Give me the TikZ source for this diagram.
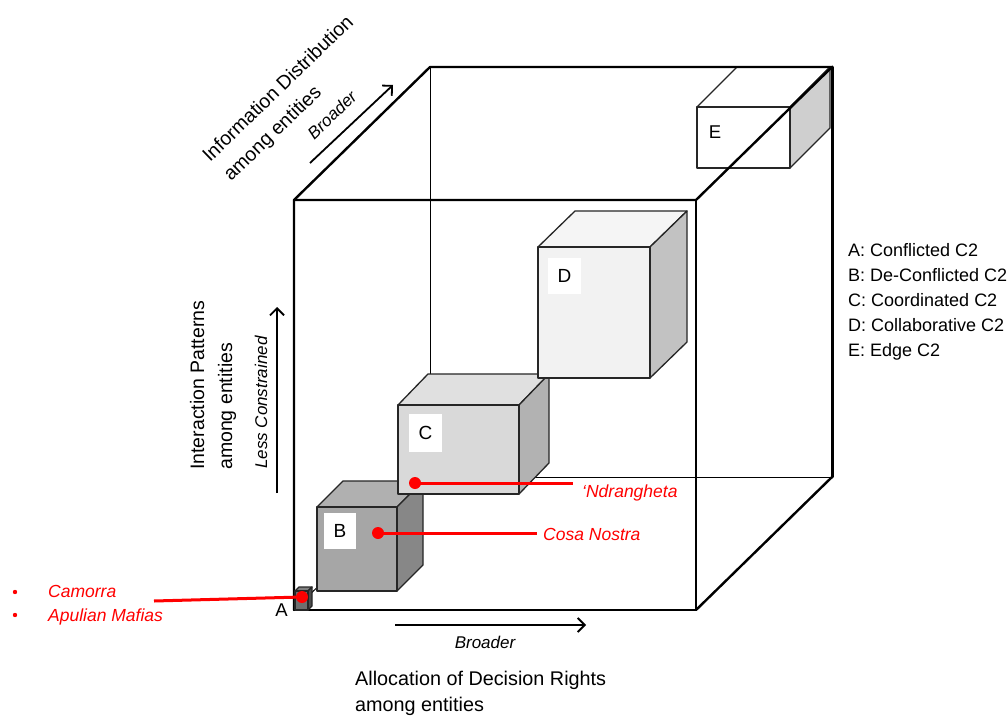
\documentclass[tikz,border=0pt]{standalone}
\usepackage{fontspec}
\setmainfont{Liberation Sans}
\usetikzlibrary{arrows.meta}
\newcommand\boxcube[9]{%
  \filldraw[cubeline,fill=#8] (#1,#2) -- ({#1+#5},{#2-#6}) -- ({#1+#3+#5},{#2-#6}) -- ({#1+#3},#2) -- cycle;
  \filldraw[cubeline,fill=#9] ({#1+#3},#2) -- ({#1+#3+#5},{#2-#6}) -- ({#1+#3+#5},{#2+#4-#6}) -- ({#1+#3},{#2+#4}) -- cycle;
  \filldraw[cubeline,fill=#7] (#1,#2) rectangle ({#1+#3},{#2+#4});
}
\begin{document}
\begin{tikzpicture}[x=1pt,y=-1pt,
  cubeline/.style={draw=black!85, line width=1.3pt, line join=round},
  bigedge/.style={line width=2.4pt, line join=round, line cap=round},
  thinedge/.style={line width=1pt},
  axisarrow/.style={line width=1.8pt, -{Straight Barb[length=7pt,width=14pt]}},
  redline/.style={draw=red, line width=3pt},
  txt/.style={inner sep=0pt, font=\fontsize{18.5}{22}\selectfont},
  atxt/.style={inner sep=0pt, font=\fontsize{19.8}{23}\selectfont, anchor=base west},
  rtxt/.style={inner sep=0pt, font=\fontsize{19.5}{22}\selectfont},
  itxt/.style={inner sep=0pt, font=\fontsize{17}{20}\selectfont\itshape},
  redtxt/.style={inner sep=0pt, text=red, font=\fontsize{17.5}{20}\selectfont\itshape, anchor=base west},
  lgd/.style={inner sep=0pt, font=\fontsize{18}{21}\selectfont, anchor=base west},
  tag/.style={fill=white, inner sep=0pt, minimum width=33pt, minimum height=36pt, font=\fontsize{19}{22}\selectfont}
]
\useasboundingbox (0,0) rectangle (1008,719);
\fill[white] (0,0) rectangle (1008,719);

% hidden / thin edges of the big cube
\draw[thinedge] (430,67) -- (430,477) -- (832,477);
\draw[thinedge] (294,610) -- (430,477);

% cube E (behind the front-top-right edge)
\boxcube{697}{107}{93}{61}{40}{40}{white}{white}{black!19}

% big cube thick edges
\draw[bigedge] (294,610) -- (294,200) -- (430,67) -- (832,67);
\draw[bigedge] (294,200) -- (696,200) -- (832,67);
\draw[bigedge] (696,200) -- (696,610) -- (294,610);
\draw[bigedge] (696,610) -- (832,477);
\draw[bigedge, line width=3pt] (832,67) -- (832,477);

% cubes A-D
\boxcube{295}{591}{13}{19}{4}{4}{black!57}{black!50}{black!70}
\boxcube{317}{507}{80}{84}{26}{26}{black!35}{black!31}{black!47}
\boxcube{398}{405}{121}{89}{30}{31}{black!15}{black!12}{black!30}
\boxcube{538}{247}{112}{131}{37}{36}{black!5}{black!4}{black!24}

% cube labels
\node[tag] (tagD) at (564.5,276) {D};
\node[tag, minimum height=38pt] (tagC) at (425.5,433) {C};
\node[tag, minimum width=32pt] (tagB) at (340,531) {B};
\node[txt] (tagE) at (715,132) {E};
\node[txt] (tagA) at (281.5,610) {A};

% red callouts
\coordinate (dotA) at (302,597);
\coordinate (endA) at (154,601);
\draw[redline] (dotA) -- (endA);
\fill[red] (dotA) circle (6pt);
\node[redtxt] (camorra) at (48,597) {Camorra};
\node[redtxt] (apulian) at (48,621) {Apulian Mafias};
\fill[red] (15,592) circle (2.2pt);
\fill[red] (15,615) circle (2.2pt);

\coordinate (dotB) at (378,533);
\coordinate (endB) at (537,533);
\draw[redline] (dotB) -- (endB);
\fill[red] (dotB) circle (6pt);
\node[redtxt] (cosa) at (543,540) {Cosa Nostra};

\coordinate (dotC) at (415,483);
\coordinate (endC) at (573,483);
\draw[redline] (dotC) -- (endC);
\fill[red] (dotC) circle (6pt);
\node[redtxt] (ndr) at (582,497) {‘Ndrangheta};

% horizontal axis
\coordinate (hx0) at (395,625);
\coordinate (hx1) at (586,625);
\draw[axisarrow] (hx0) -- (hx1);
\node[itxt, anchor=base] (hbroad) at (485,648) {Broader};
\node[atxt] (alloc1) at (355,685) {Allocation of Decision Rights};
\node[atxt] (alloc2) at (355,711) {among entities};

% vertical axis
\coordinate (vy0) at (277,493);
\coordinate (vy1) at (277,307);
\draw[axisarrow] (vy0) -- (vy1);
\node[rtxt, rotate=90, anchor=base west] (inter1) at (204,470) {Interaction Patterns};
\node[rtxt, rotate=90, anchor=base west] (inter2) at (232,470) {among entities};
\node[itxt, rotate=90, anchor=base west] (less) at (267,469) {Less Constrained};

% depth axis
\coordinate (dz0) at (310,163);
\coordinate (dz1) at (393,85);
\draw[axisarrow] (dz0) -- (dz1);
\node[rtxt, rotate=44, anchor=base west] (info1) at (210,163) {Information Distribution};
\node[rtxt, rotate=44, anchor=base west] (info2) at (231,182) {among entities};
\node[itxt, rotate=44] (dbroad) at (332,115) {Broader};

% legend
\node[lgd] (lgA) at (848,256) {A: Conflicted C2};
\node[lgd] (lgB) at (848,281) {B: De-Conflicted C2};
\node[lgd] (lgC) at (848,306) {C: Coordinated C2};
\node[lgd] (lgD) at (848,331) {D: Collaborative C2};
\node[lgd] (lgE) at (848,356) {E: Edge C2};
\end{tikzpicture}
\end{document}
